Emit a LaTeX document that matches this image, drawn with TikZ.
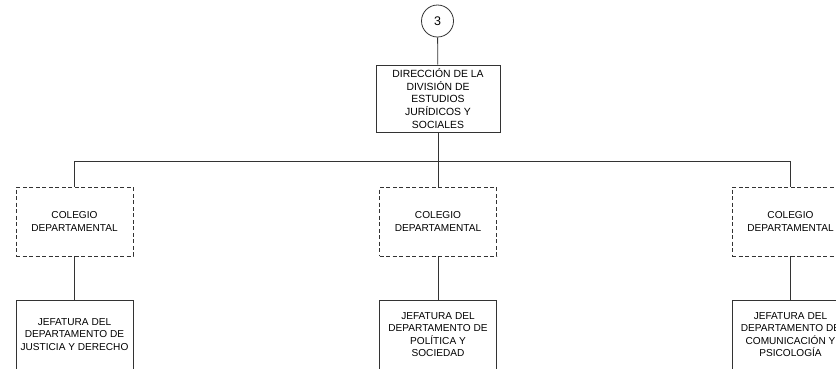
\documentclass[tikz,border=0pt]{standalone}
\usepackage{fontspec}
\setmainfont{Liberation Sans}
\begin{document}
\begin{tikzpicture}[x=1pt,y=-1pt,
  box/.style={draw=black!80, line width=0.8pt, minimum width=117pt, minimum height=69pt,
    align=center, font=\fontsize{10.1}{12.6}\selectfont, inner sep=0pt},
  dbox/.style={box, dash pattern=on 4pt off 2.5pt},
  conn/.style={draw=black!80, line width=0.8pt}]
\useasboundingbox (0,0) rectangle (836,368);
\clip (0,0) rectangle (836,368);
\node[circle, draw=black!80, line width=0.8pt, minimum size=32pt, inner sep=0pt,
  font=\fontsize{12.5}{14}\selectfont] (c3) at (437.5,21) {3};
\node[box, minimum width=124pt, minimum height=67pt, font=\fontsize{10.4}{12.6}\selectfont] (dir) at (438,98.5)
  {DIRECCIÓN DE LA\\DIVISIÓN DE\\ESTUDIOS\\JURÍDICOS Y\\SOCIALES};
\node[dbox] (col1) at (74.5,221.5) {COLEGIO\\DEPARTAMENTAL};
\node[dbox] (col2) at (438,221.5) {COLEGIO\\DEPARTAMENTAL};
\node[dbox] (col3) at (790.5,221.5) {COLEGIO\\DEPARTAMENTAL};
\node[box] (jef1) at (74.5,334.5) {JEFATURA DEL\\DEPARTAMENTO DE\\JUSTICIA Y DERECHO};
\node[box] (jef2) at (438,334.5) {JEFATURA DEL\\DEPARTAMENTO DE\\POLÍTICA Y\\SOCIEDAD};
\node[box] (jef3) at (790.5,334.5) {JEFATURA DEL\\DEPARTAMENTO DE\\COMUNICACIÓN Y\\PSICOLOGÍA};
\coordinate (bus) at (438,161.5);
\draw[conn] (c3) -- (dir);
\draw[conn] (dir.south) -- (col2.north);
\draw[conn] (col1.north) |- (bus) -| (col3.north);
\draw[conn] (col1) -- (jef1);
\draw[conn] (col2) -- (jef2);
\draw[conn] (col3) -- (jef3);
\end{tikzpicture}
\end{document}
